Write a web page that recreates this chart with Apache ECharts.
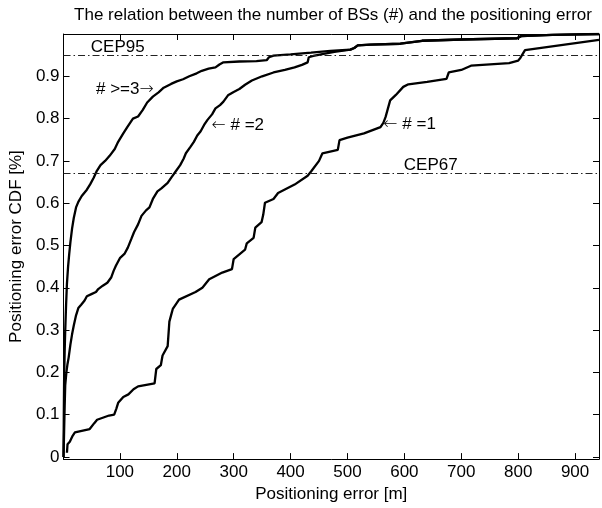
<!DOCTYPE html>
<html>
<head>
<meta charset="utf-8">
<script src="https://cdn.jsdelivr.net/npm/echarts@6/dist/echarts.min.js"></script>
<style>html,body{margin:0;padding:0;background:#fff}#c{width:602px;height:508px}</style>
</head>
<body>
<div id="c"></div>
<script>
// ---- data ----
const titleText = 'The relation between the number of BSs (#) and the positioning error';
const xName = 'Positioning error [m]';
const yName = 'Positioning error CDF [%]';
const xRange = [1, 942];
const yRange = [-0.005, 1.0];
const cepLevels = [0.95, 0.67];

// # >= 3 BSs
const bs3Data = [[1,0.0],[1.5,0.1],[2,0.18],[3,0.25],[4,0.30],[5.5,0.36],[7,0.41],[9,0.45],[11,0.48],[13,0.507],[16,0.54],[19,0.565],[23,0.59],[27,0.603],[33,0.617],[42,0.632],[48,0.645],[54,0.66],[59,0.675],[66,0.69],[74,0.70],[82,0.712],[91,0.728],[97,0.745],[106,0.765],[113,0.78],[118,0.79],[123,0.80],[132,0.805],[140,0.82],[148,0.838],[158,0.852],[168,0.862],[177,0.873],[190,0.882],[200,0.888],[211,0.893],[222,0.90],[235,0.907],[244,0.913],[256,0.918],[268,0.921],[275,0.928],[282,0.933],[310,0.935],[340,0.936],[358,0.938],[362,0.945],[370,0.949],[400,0.952],[436,0.956],[470,0.96],[505,0.963],[512,0.967],[518,0.973],[540,0.975],[593,0.977],[631,0.984],[700,0.987],[798,0.99],[805,0.995],[860,0.998],[942,1.0]];

// # = 2 BSs
const bs2Data = [[1,0.0],[2,0.06],[3,0.12],[4,0.17],[6,0.20],[8,0.22],[10,0.235],[13,0.265],[16,0.29],[19,0.311],[23,0.335],[27,0.352],[32,0.36],[38,0.37],[42,0.38],[50,0.385],[58,0.39],[62,0.397],[70,0.405],[78,0.412],[85,0.425],[89,0.44],[93,0.452],[100,0.47],[108,0.48],[114,0.495],[120,0.515],[125,0.532],[132,0.55],[138,0.57],[146,0.583],[152,0.59],[158,0.61],[166,0.628],[173,0.635],[184,0.648],[190,0.66],[198,0.675],[206,0.69],[212,0.705],[216,0.718],[224,0.733],[230,0.745],[236,0.76],[242,0.77],[248,0.785],[254,0.797],[262,0.81],[268,0.824],[276,0.832],[282,0.84],[290,0.855],[300,0.863],[310,0.87],[320,0.88],[332,0.89],[350,0.9],[370,0.909],[390,0.915],[407,0.921],[420,0.927],[430,0.933],[432,0.945],[440,0.948],[458,0.953],[477,0.958],[505,0.963],[512,0.967],[518,0.973],[540,0.975],[593,0.977],[631,0.984],[700,0.987],[798,0.99],[805,0.995],[860,0.998],[942,1.0]];

// # = 1 BS
const bs1Data = [[7,0.01],[8,0.03],[12,0.036],[17,0.05],[21,0.058],[47,0.066],[55,0.08],[60,0.088],[81,0.098],[90,0.1],[94,0.115],[97,0.128],[106,0.142],[115,0.148],[124,0.16],[132,0.167],[161,0.174],[164,0.208],[172,0.217],[175,0.24],[184,0.262],[187,0.32],[191,0.34],[193,0.35],[204,0.372],[233,0.39],[245,0.40],[257,0.42],[280,0.436],[297,0.444],[300,0.468],[320,0.49],[323,0.505],[335,0.518],[338,0.542],[349,0.555],[352,0.573],[355,0.601],[370,0.61],[378,0.624],[407,0.644],[430,0.665],[436,0.675],[450,0.70],[456,0.718],[483,0.726],[486,0.749],[500,0.755],[529,0.765],[558,0.78],[563,0.79],[567,0.804],[575,0.843],[585,0.856],[598,0.875],[607,0.881],[640,0.887],[674,0.894],[678,0.909],[700,0.915],[717,0.925],[784,0.931],[800,0.937],[804,0.944],[812,0.962],[942,0.986]];

// annotations (data coordinates of the text's left edge / vertical middle)
const annTexts = ['CEP95', 'CEP67', '# >=3{a|\u2192}', '{a|\u2190} # =2', '{a|\u2190} # =1'];
const annX = [49, 599, 58, 261, 563];
const annY = [0.968, 0.690, 0.869, 0.784, 0.787];

// ---- chart ----
const FONT = 'Liberation Sans';
const FS = 17;
const chart = echarts.init(document.getElementById('c'), null, {renderer: 'canvas'});
const tickFmt = v => {
  const r = Math.round(v * 10) / 10;
  if (Math.abs(v - r) > 1e-6 || r > 0.95) return '';
  return r === 0 ? '0' : r.toFixed(1);
};
const xFmt = v => (Math.abs(v % 100) < 1e-6 && v > 0) ? String(v) : '';
const axisCommon = {
  axisLine: {show: true, onZero: false, lineStyle: {color: '#000', width: 1}},
  axisTick: {show: true, inside: true, length: 6, lineStyle: {color: '#000'}},
  splitLine: {show: false}
};
const lineSeries = (name, data) => ({
  type: 'line', name, data, showSymbol: false, symbol: 'none', smooth: false,
  xAxisIndex: 0, yAxisIndex: 0, animation: false,
  lineStyle: {color: '#000', width: 2.3}, z: 3
});
const option = {
  animation: false,
  backgroundColor: '#fff',
  title: {
    text: titleText, left: 328, top: 2, textAlign: 'center',
    textStyle: {fontFamily: FONT, fontSize: FS, fontWeight: 'normal', color: '#000'}
  },
  grid: {left: 60, right: 1, top: 34, bottom: 46, containLabel: false},
  xAxis: [
    Object.assign({type: 'value', position: 'bottom', min: xRange[0], max: xRange[1], splitNumber: 9,
      name: xName, nameLocation: 'middle', nameGap: 22,
      nameTextStyle: {fontFamily: FONT, fontSize: FS, color: '#000'},
      axisLabel: {formatter: xFmt, margin: 5, fontFamily: FONT, fontSize: FS, color: '#000'}
    }, axisCommon),
    Object.assign({type: 'value', position: 'top', min: xRange[0], max: xRange[1], splitNumber: 9,
      axisLabel: {show: false}}, axisCommon)
  ],
  yAxis: [
    Object.assign({type: 'value', position: 'left', min: yRange[0], max: yRange[1], splitNumber: 10,
      name: yName, nameLocation: 'middle', nameGap: 34,
      nameTextStyle: {fontFamily: FONT, fontSize: FS, color: '#000'},
      axisLabel: {formatter: tickFmt, margin: 4, fontFamily: FONT, fontSize: FS, color: '#000'}
    }, axisCommon),
    Object.assign({type: 'value', position: 'right', min: yRange[0], max: yRange[1], splitNumber: 10,
      axisLabel: {show: false}}, axisCommon)
  ],
  series: [
    lineSeries('#>=3', bs3Data),
    lineSeries('#=2', bs2Data),
    Object.assign(lineSeries('#=1', bs1Data), {
      markLine: {
        silent: true, symbol: 'none', animation: false,
        label: {show: false},
        lineStyle: {color: '#222', width: 1, type: [7, 3, 1.5, 3]},
        data: cepLevels.map(v => ({yAxis: v}))
      }
    })
  ]
};
chart.setOption(option);

const graphics = annTexts.map((t, i) => {
  const p = chart.convertToPixel({xAxisIndex: 0, yAxisIndex: 0}, [annX[i], annY[i]]);
  return {
    type: 'text', x: p[0], y: p[1], z: 10,
    style: {
      text: t, fill: '#000', fontFamily: FONT, fontSize: FS,
      align: 'left', verticalAlign: 'middle',
      rich: {a: {fontFamily: 'DejaVu Sans', fontSize: 17, fill: '#000', fontWeight: 200}}
    }
  };
});
chart.setOption({graphic: graphics});
</script>
</body>
</html>
